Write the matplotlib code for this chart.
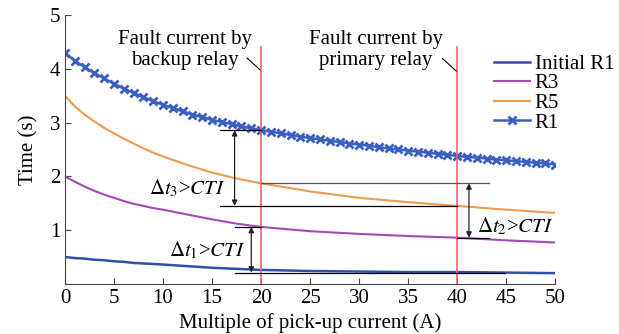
import numpy as np
import matplotlib
matplotlib.use("Agg")
import matplotlib.pyplot as plt

plt.rcParams['font.family'] = ['Liberation Serif', 'DejaVu Serif']
plt.rcParams['mathtext.fontset'] = 'stix'

# relay curves
x_r1 = list(range(0, 51))
r1 = [4.30, 4.15, 4.03, 3.92, 3.82, 3.72, 3.63, 3.55, 3.47, 3.40,
      3.33, 3.27, 3.21, 3.15, 3.10, 3.05, 3.01, 2.97, 2.93, 2.89,
      2.86, 2.83, 2.80, 2.77, 2.74, 2.71, 2.69, 2.66, 2.64, 2.61,
      2.59, 2.57, 2.54, 2.52, 2.50, 2.48, 2.46, 2.44, 2.42, 2.40,
      2.38, 2.36, 2.35, 2.33, 2.31, 2.30, 2.28, 2.27, 2.25, 2.24, 2.22]

x_c = [0, 1, 2, 3, 4, 5, 6, 7, 8, 9, 10, 12.5, 15, 17.5, 20, 25, 30, 35, 40, 45, 50]
r5 = [3.50, 3.30, 3.15, 3.02, 2.90, 2.80, 2.70, 2.61, 2.52, 2.44, 2.37,
      2.21, 2.07, 1.96, 1.87, 1.72, 1.60, 1.52, 1.45, 1.38, 1.32]
r3 = [2.00, 1.90, 1.81, 1.73, 1.66, 1.60, 1.54, 1.49, 1.45, 1.41, 1.38,
      1.29, 1.20, 1.12, 1.06, 0.98, 0.93, 0.89, 0.86, 0.81, 0.77]
init_r1 = [0.50, 0.48, 0.47, 0.45, 0.44, 0.42, 0.41, 0.39, 0.38, 0.37, 0.36,
           0.33, 0.30, 0.28, 0.26, 0.24, 0.23, 0.22, 0.22, 0.21, 0.20]

backup_x = 20
primary_x = 40

c_blue = '#2f4fae'
c_cross = '#3a5fc0'
c_purple = '#a349b4'
c_orange = '#f09a4c'
c_red = '#f2606c'

fig = plt.figure(figsize=(6.19, 3.34), dpi=100)
ax = fig.add_axes([0.105, 0.150, 0.792, 0.805])

ax.plot(x_c, init_r1, color=c_blue, lw=1.8, label='Initial R1')
ax.plot(x_c, r3, color=c_purple, lw=1.5, label='R3')
ax.plot(x_c, r5, color=c_orange, lw=1.5, label='R5')
ax.plot(x_r1, r1, color=c_cross, lw=1.8, marker='x', ms=6, mew=2, label='R1')

# fault current lines
for xv in (backup_x, primary_x):
    ax.plot([xv, xv], [0, 4.41], color=c_red, lw=1.2)

def val(xs, ys, xv):
    return float(np.interp(xv, xs, ys))

t1_b = val(x_r1, r1, backup_x)
t5_b = val(x_c, r5, backup_x)
t5_p = val(x_c, r5, primary_x)
t3_b = val(x_c, r3, backup_x)
t3_p = val(x_c, r3, primary_x)
ti_b = val(x_c, init_r1, 45)

k = dict(color='black', lw=0.9)
ax.plot([15.8, backup_x], [t1_b, t1_b], **k)
ax.plot([15.8, primary_x], [t5_p, t5_p], **k)
ax.plot([backup_x, 43.2], [t5_b, t5_b], color='#555555', lw=0.9)
ax.plot([primary_x, 43.2], [t3_p, t3_p], **k)
ax.plot([17.3, backup_x], [t3_b, t3_b], **k)
ax.plot([17.3, 44.9], [ti_b, ti_b], **k)

arr = dict(arrowstyle='<|-|>', color='#222222', lw=0.9, mutation_scale=8,
           shrinkA=0, shrinkB=0)
ax.annotate('', xy=(17.3, t5_p), xytext=(17.3, t1_b), arrowprops=arr)
ax.annotate('', xy=(41.2, t3_p), xytext=(41.2, t5_b), arrowprops=arr)
ax.annotate('', xy=(19.0, ti_b), xytext=(19.0, t3_b), arrowprops=arr)

fs = 15
ax.text(16.4, 1.78, r'$\Delta t_3$>$CTI$', ha='right', va='center', fontsize=fs)
ax.text(18.4, 0.63, r'$\Delta t_1$>$CTI$', ha='right', va='center', fontsize=fs)
ax.text(42.0, 1.07, r'$\Delta t_2$>$CTI$', ha='left', va='center', fontsize=fs)

ax.text(12.25, 4.35, 'Fault current by\nbackup relay', ha='center', va='center',
        fontsize=fs, linespacing=1.15)
ax.text(31.7, 4.35, 'Fault current by\nprimary relay', ha='center', va='center',
        fontsize=fs, linespacing=1.15)
ax.plot([18.57, 19.9], [4.20, 3.98], color='black', lw=0.8)
ax.plot([38.5, 39.9], [4.19, 3.96], color='black', lw=0.8)

ax.set_xlim(0, 50)
ax.set_ylim(0, 5)
ax.set_xticks(range(0, 51, 5))
ax.set_yticks([0, 1, 2, 3, 4, 5])
ax.set_yticklabels(['', '1', '2', '3', '4', '5'])
ax.tick_params(direction='in', length=4, labelsize=fs, color='#444444')
for s in ('top', 'right'):
    ax.spines[s].set_visible(False)
for s in ('left', 'bottom'):
    ax.spines[s].set_color('#444444')
ax.set_xlabel('Multiple of pick-up current (A)', fontsize=fs, labelpad=4)
ax.set_ylabel('Time (s)', fontsize=fs, labelpad=8)

ax.legend(loc='upper left', bbox_to_anchor=(0.858, 0.885), frameon=False,
          fontsize=fs, labelspacing=0.0, handlelength=1.75, handletextpad=0.2,
          borderaxespad=0)

fig.savefig('out.png', dpi=100)
